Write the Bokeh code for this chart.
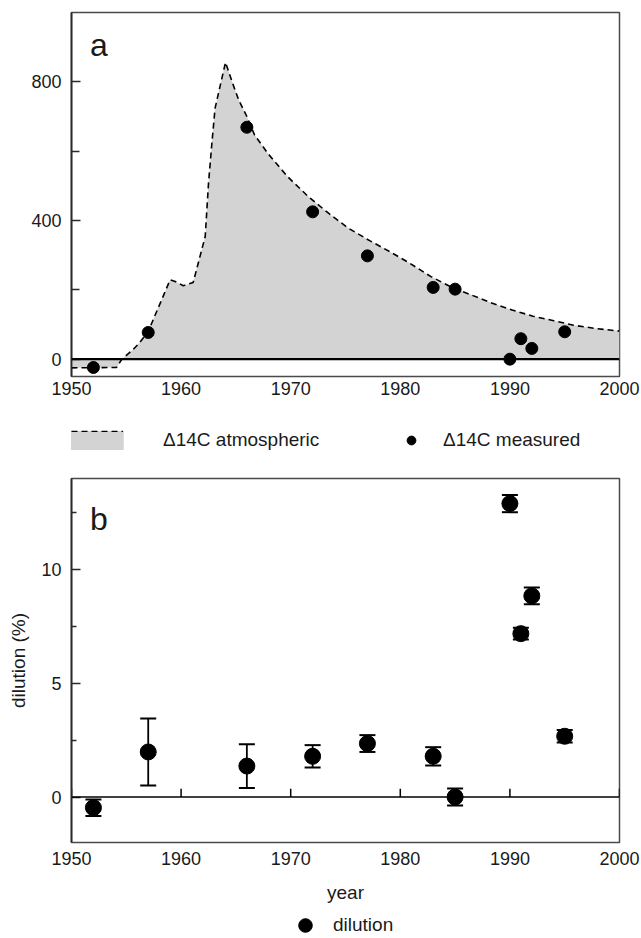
from bokeh.plotting import figure
from bokeh.models import (Range1d, FixedTicker, Legend, LegendItem, Span, Whisker,
                          ColumnDataSource, Label, TeeHead)
from bokeh.layouts import column
from bokeh.embed import file_html
from bokeh.resources import INLINE

# ---------------- data ----------------
atm_year = [1950, 1954.1, 1954.6, 1955.6, 1956.2, 1957.0, 1959.0, 1959.4, 1960.2, 1961.1,
            1962.2, 1962.5, 1962.8, 1963.1, 1964.05, 1964.7, 1965.25, 1966.0, 1966.7,
            1967.9, 1969.7, 1971.6, 1973.45, 1975.3, 1977.2, 1979.05, 1980.9, 1982.8,
            1984.6, 1986.5, 1988.4, 1990.2, 1992.1, 1994.0, 1995.8, 1997.7, 2000]
atm_d14c = [-25, -24, 0, 27, 47, 80, 229, 225, 212, 221,
            354, 507, 620, 724, 856, 796, 748, 700, 647,
            594, 527, 469, 421, 377, 342, 310, 276, 238,
            209, 185, 161, 142, 124, 111, 98, 89, 81]

meas_year = [1952, 1957, 1966, 1972, 1977, 1983, 1985, 1990, 1991, 1992, 1995]
meas_d14c = [-24, 77, 669, 425, 298, 207, 202, 0, 59, 31, 79]

dil_year = [1952, 1957, 1966, 1972, 1977, 1983, 1985, 1990, 1991, 1992, 1995]
dil_value = [-0.47, 1.98, 1.36, 1.79, 2.35, 1.79, 0.0, 12.9, 7.18, 8.84, 2.67]
dil_err = [0.36, 1.47, 0.96, 0.49, 0.37, 0.40, 0.37, 0.38, 0.26, 0.37, 0.27]

x_ticks = [1950, 1960, 1970, 1980, 1990, 2000]
ya_ticks = [0, 400, 800]
ya_minor = [200, 600]
yb_ticks = [0, 5, 10]
yb_minor = [2.5, 7.5, 12.5]

FONT = "Liberation Sans"
TXT = "#1a1a1a"
AREA = "#d3d3d3"
W = 641
BL, BR = 71, 22   # shared left / right borders (frames are aligned in the column)


def style(p):
    p.xgrid.visible = False
    p.ygrid.visible = False
    p.outline_line_color = "#4a4a4a"
    p.outline_line_width = 1.5
    p.background_fill_color = "white"
    p.border_fill_color = "white"
    for ax in p.xaxis:
        ax.ticker = FixedTicker(ticks=x_ticks)
        ax.major_tick_in = 0
        ax.major_tick_out = 0
        ax.minor_tick_in = 0
        ax.minor_tick_out = 0
        ax.axis_line_color = None
        ax.major_label_text_font = FONT
        ax.major_label_text_font_size = "18px"
        ax.major_label_text_color = TXT
    for ax in p.yaxis:
        ax.major_tick_out = 0
        ax.minor_tick_out = 0
        ax.axis_line_color = "#2a2a2a"
        ax.axis_line_width = 1.8
        ax.major_tick_line_color = "#2a2a2a"
        ax.major_tick_line_width = 1.5
        ax.minor_tick_line_color = "#2a2a2a"
        ax.minor_tick_line_width = 1.5
        ax.major_label_standoff = 10
        ax.major_label_text_font = FONT
        ax.major_label_text_font_size = "18px"
        ax.major_label_text_color = TXT


def legend_fig(height):
    q = figure(width=W, height=height, x_range=Range1d(1950, 2000),
               y_range=Range1d(100000, 100001), x_axis_type=None, y_axis_type=None,
               output_backend="svg", toolbar_location=None,
               min_border_left=BL, min_border_right=BR, min_border_top=0, min_border_bottom=0)
    q.outline_line_color = None
    q.xgrid.visible = False
    q.ygrid.visible = False
    q.background_fill_color = "white"
    q.border_fill_color = "white"
    return q


leg_kw = dict(orientation="horizontal", padding=0, margin=0, spacing=0,
              border_line_color=None, background_fill_alpha=0,
              label_text_font=FONT, label_text_font_size="19px", label_text_color=TXT)

# ---------------- panel a ----------------
p1 = figure(width=W, height=410, x_range=Range1d(1950, 2000), y_range=Range1d(-50, 1000),
            output_backend="svg", toolbar_location=None,
            min_border_left=BL, min_border_right=BR, min_border_top=12, min_border_bottom=34)
style(p1)
p1.yaxis.ticker = FixedTicker(ticks=ya_ticks, minor_ticks=ya_minor)
p1.yaxis.major_tick_in = 9
p1.yaxis.minor_tick_in = 8
p1.xaxis.major_label_standoff = 5

src_atm = ColumnDataSource(dict(x=atm_year, y=atm_d14c, zero=[0] * len(atm_year)))
src_meas = ColumnDataSource(dict(x=meas_year, y=meas_d14c))
p1.varea(x="x", y1="zero", y2="y", source=src_atm, fill_color=AREA)
p1.add_layout(Span(location=0, dimension="width", line_color="black", line_width=2.2))
p1.line(x="x", y="y", source=src_atm, line_color="black", line_width=1.6, line_dash="6 4")
p1.scatter("x", "y", source=src_meas, size=12, color="black")
p1.add_layout(Label(x=1951.69, y=905, text="a", text_font=FONT, text_font_size="32px",
                    text_color=TXT, text_baseline="alphabetic"))

# ---------------- legend row for panel a ----------------
pl = legend_fig(60)
l_area = pl.varea(x="x", y1="zero", y2="y", source=src_atm, fill_color=AREA)
l_line = pl.line(x="x", y="y", source=src_atm, line_color="black", line_width=1.6,
                 line_dash="6 4")
l_dots = pl.scatter("x", "y", source=src_meas, size=12, color="black")
pl.add_layout(Legend(items=[LegendItem(label="\u039414C atmospheric", renderers=[l_area])],
                     location=(-9, 18), glyph_width=68, glyph_height=24,
                     label_height=24, label_standoff=33, **leg_kw))
pl.add_layout(Legend(items=[LegendItem(label=" ", renderers=[l_line])],
                     location=(0, 38), glyph_width=52, glyph_height=2, label_height=2,
                     label_standoff=0, orientation="horizontal", padding=0, margin=0,
                     border_line_color=None, background_fill_alpha=0,
                     label_text_font_size="1px"))
pl.add_layout(Legend(items=[LegendItem(label="\u039414C measured", renderers=[l_dots])],
                     location=(329, 19), glyph_width=22, glyph_height=22, label_height=22,
                     label_standoff=21, **leg_kw))

# ---------------- panel b ----------------
p2 = figure(width=W, height=440, x_range=Range1d(1950, 2000), y_range=Range1d(-2, 14),
            output_backend="svg", toolbar_location=None,
            min_border_left=BL, min_border_right=BR, min_border_top=8, min_border_bottom=68)
style(p2)
p2.yaxis.ticker = FixedTicker(ticks=yb_ticks, minor_ticks=yb_minor)
p2.yaxis.major_tick_in = 9
p2.yaxis.minor_tick_in = 5
p2.xaxis.major_label_standoff = 9
p2.xaxis.axis_label = "year"
p2.xaxis.axis_label_standoff = 14
p2.yaxis.axis_label = "dilution (%)"
p2.yaxis.axis_label_standoff = 9
for ax in list(p2.xaxis) + list(p2.yaxis):
    ax.axis_label_text_font = FONT
    ax.axis_label_text_font_size = "19px"
    ax.axis_label_text_font_style = "normal"
    ax.axis_label_text_color = TXT

p2.add_layout(Span(location=0, dimension="width", line_color="black", line_width=1.6))
# x ticks drawn on the zero line, pointing up
p2.segment(x0=x_ticks, y0=[0] * len(x_ticks), x1=x_ticks, y1=[0.36] * len(x_ticks),
           line_color="black", line_width=1.5)

src_dil = ColumnDataSource(dict(
    x=dil_year, y=dil_value,
    upper=[v + e for v, e in zip(dil_value, dil_err)],
    lower=[v - e for v, e in zip(dil_value, dil_err)]))
p2.add_layout(Whisker(base="x", upper="upper", lower="lower", source=src_dil,
                      line_color="black", line_width=1.8,
                      upper_head=TeeHead(size=16, line_width=2, line_color="black"),
                      lower_head=TeeHead(size=16, line_width=2, line_color="black")))
p2.scatter("x", "y", source=src_dil, size=16, color="black")
p2.add_layout(Label(x=1951.69, y=12.23, text="b", text_font=FONT, text_font_size="32px",
                    text_color=TXT, text_baseline="alphabetic"))

# ---------------- legend row for panel b ----------------
pl2 = legend_fig(28)
l_dil = pl2.scatter("x", "y", source=src_dil, size=16, color="black")
pl2.add_layout(Legend(items=[LegendItem(label="dilution", renderers=[l_dil])],
                      location=(217, -4), glyph_width=34, glyph_height=34,
                      label_height=34, label_standoff=11, **leg_kw))

layout = column(p1, pl, p2, pl2, spacing=0)
open("out.html", "w").write(file_html(layout, INLINE))
